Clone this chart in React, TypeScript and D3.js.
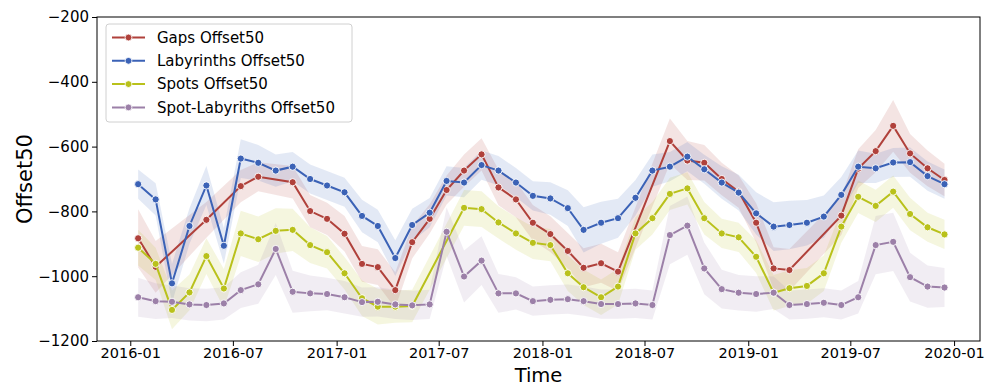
import React, { useEffect, useRef } from 'react';
import * as d3 from 'd3';

// monthly values, 2016-01 .. 2019-12 (null = no sample that month)
const startYear = 2016;
const monthCount = 48;

const gaps = [-883, -971, null, null, -826, null, -722, -693, null, -710, -799, -823,
  -869, -962, -972, -1043, -895, -823, -734, -674, -624, -726, -763, -835,
  -870, -922, -974, -960, -986, null, null, -583, -643, -650, -700, -739,
  -835, -976, -981, null, null, -813, -668, -614, -536, -621, -667, -703];
const labyrinths = [-716, -763, -1022, -845, -720, -906, -637, -650, -674, -662, -700, -720,
  -741, -814, -845, -944, -842, -804, -706, -711, -657, -674, -711, -752,
  -760, -790, -857, -835, -821, -758, -674, -662, -631, -670, -711, -742,
  -806, -847, -842, -835, -816, -749, -662, -667, -649, -648, -691, -716];
const spots = [-912, -962, -1104, -1050, -938, -1038, -868, -886, -860, -857, -904, -926,
  -991, -1068, -1094, -1094, -1092, null, null, -789, -793, -834, -868, -897,
  -904, -991, -1034, -1065, -1032, -868, -821, -746, -729, -821, -868, -880,
  -940, -1051, -1037, -1030, -991, -847, -755, -783, -739, -808, -849, -871];
const spotLab = [-1065, -1077, -1079, -1087, -1089, -1084, -1043, -1025, -916, -1048, -1053, -1055,
  -1065, -1080, -1079, -1087, -1090, -1087, -863, -1001, -952, -1053, -1053, -1077,
  -1073, -1071, -1077, -1086, -1086, -1084, -1089, -873, -844, -976, -1040, -1051,
  -1055, -1051, -1089, -1086, -1082, -1089, -1065, -904, -894, -1003, -1032, -1035];

// half-width of the confidence band at each month
const gapsBand = [90, 80, 0, 0, 55, 0, 50, 45, 0, 50, 50, 50,
  55, 55, 55, 55, 50, 45, 45, 50, 50, 55, 55, 55,
  55, 55, 60, 60, 60, 0, 0, 70, 60, 55, 50, 50,
  60, 65, 65, 0, 0, 60, 60, 65, 80, 60, 55, 50];
const labBand = [45, 50, 60, 55, 60, 55, 60, 55, 50, 45, 45, 45,
  45, 50, 50, 55, 50, 45, 45, 45, 45, 45, 45, 45,
  50, 55, 70, 65, 60, 55, 50, 45, 45, 45, 50, 55,
  65, 75, 75, 70, 65, 55, 50, 45, 45, 45, 45, 45];
const spotsBand = [55, 50, 60, 55, 55, 60, 70, 70, 70, 65, 55, 50,
  50, 55, 55, 50, 50, 0, 0, 55, 55, 50, 50, 50,
  50, 55, 55, 55, 55, 50, 50, 50, 50, 50, 45, 45,
  50, 55, 55, 55, 55, 50, 50, 50, 50, 50, 45, 45];
const spotLabBand = [60, 55, 50, 50, 50, 50, 55, 60, 80, 65, 55, 50,
  50, 45, 45, 45, 45, 45, 75, 80, 75, 60, 50, 45,
  45, 45, 45, 45, 45, 45, 45, 90, 90, 80, 60, 55,
  55, 50, 45, 45, 45, 45, 50, 90, 90, 75, 65, 60];

const seriesNames = ['Gaps Offset50', 'Labyrinths Offset50', 'Spots Offset50', 'Spot-Labyriths Offset50'];
const seriesValues = [gaps, labyrinths, spots, spotLab];
const seriesBands = [gapsBand, labBand, spotsBand, spotLabBand];
const seriesColors = ['#b0413b', '#3b62b6', '#b9c11b', '#9c80a8'];

const yTicks = [-1200, -1000, -800, -600, -400, -200];

const W = 989, H = 385;
const left = 97, right = 980, top = 17, bottom = 341;

export default function App() {
  const ref = useRef<SVGSVGElement>(null);

  useEffect(() => {
    const svg = d3.select(ref.current);
    svg.selectAll('*').remove();
    const font = 'DejaVu Sans, sans-serif';

    const x = d3.scaleTime()
      .domain([new Date(2015, 10, 3), new Date(2020, 1, 16)])
      .range([left, right]);
    const y = d3.scaleLinear().domain([-1200, -200]).range([bottom, top]);

    const dates = d3.range(monthCount).map(i => new Date(startYear, i, 15));

    const data = seriesValues.map((vals, s) =>
      vals.map((v, i) => ({ d: dates[i], v: v as number, b: seriesBands[s][i] }))
        .filter(p => p.v !== null));

    // bands first (they sit below every line)
    const area = d3.area<any>()
      .x(p => x(p.d))
      .y0(p => y(p.v - p.b))
      .y1(p => y(p.v + p.b));
    data.forEach((pts, s) => {
      svg.append('path')
        .attr('d', area(pts))
        .attr('fill', seriesColors[s])
        .attr('fill-opacity', 0.14)
        .attr('stroke', 'none');
    });

    const line = d3.line<any>().x(p => x(p.d)).y(p => y(p.v));
    data.forEach((pts, s) => {
      const g = svg.append('g');
      g.append('path')
        .attr('d', line(pts))
        .attr('fill', 'none')
        .attr('stroke', seriesColors[s])
        .attr('stroke-width', 2);
      g.selectAll('circle').data(pts).enter().append('circle')
        .attr('cx', p => x(p.d))
        .attr('cy', p => y(p.v))
        .attr('r', 3.6)
        .attr('fill', seriesColors[s])
        .attr('stroke', 'white')
        .attr('stroke-width', 0.9);
    });

    // axes
    const xAxis = d3.axisBottom(x)
      .ticks(d3.timeMonth.every(6))
      .tickFormat(d3.timeFormat('%Y-%m') as any)
      .tickSize(5).tickPadding(2);
    const gx = svg.append('g').attr('transform', `translate(0,${bottom})`).call(xAxis);
    gx.select('.domain').remove();
    gx.selectAll('text').attr('font-size', 14.5).attr('font-family', font).attr('fill', '#000');
    gx.selectAll('line').attr('stroke', '#000');

    const yAxis = d3.axisLeft(y).tickValues(yTicks).tickFormat(d3.format('d')).tickSize(5).tickPadding(3);
    const gy = svg.append('g').attr('transform', `translate(${left},0)`).call(yAxis);
    gy.select('.domain').remove();
    gy.selectAll('text').attr('font-size', 15).attr('font-family', font).attr('fill', '#000');
    gy.selectAll('line').attr('stroke', '#000');

    svg.append('rect')
      .attr('x', left).attr('y', top)
      .attr('width', right - left).attr('height', bottom - top)
      .attr('fill', 'none').attr('stroke', '#000').attr('stroke-width', 1);

    svg.append('text')
      .attr('x', (left + right) / 2).attr('y', 381.5)
      .attr('text-anchor', 'middle')
      .attr('font-family', font).attr('font-size', 19.5)
      .text('Time');
    svg.append('text')
      .attr('transform', `translate(32,${(top + bottom) / 2}) rotate(-90)`)
      .attr('text-anchor', 'middle')
      .attr('font-family', font).attr('font-size', 21)
      .text('Offset50');

    // legend
    const lg = svg.append('g');
    lg.append('rect')
      .attr('x', 106).attr('y', 24).attr('width', 246).attr('height', 98)
      .attr('rx', 3).attr('fill', 'white').attr('fill-opacity', 0.85)
      .attr('stroke', '#d0d0d0').attr('stroke-width', 1);
    seriesNames.forEach((name, s) => {
      const ly = 37.5 + s * 23.3;
      lg.append('line')
        .attr('x1', 112).attr('x2', 145).attr('y1', ly).attr('y2', ly)
        .attr('stroke', seriesColors[s]).attr('stroke-width', 2);
      lg.append('circle')
        .attr('cx', 128.5).attr('cy', ly).attr('r', 3.4)
        .attr('fill', seriesColors[s]).attr('stroke', 'white').attr('stroke-width', 0.8);
      lg.append('text')
        .attr('x', 157).attr('y', ly).attr('dy', '0.35em')
        .attr('font-family', font).attr('font-size', 15)
        .text(name);
    });
  }, []);

  return (
    <svg ref={ref} width={W} height={H}
      style={{ position: 'absolute', left: 0, top: 0, background: 'white' }} />
  );
}
